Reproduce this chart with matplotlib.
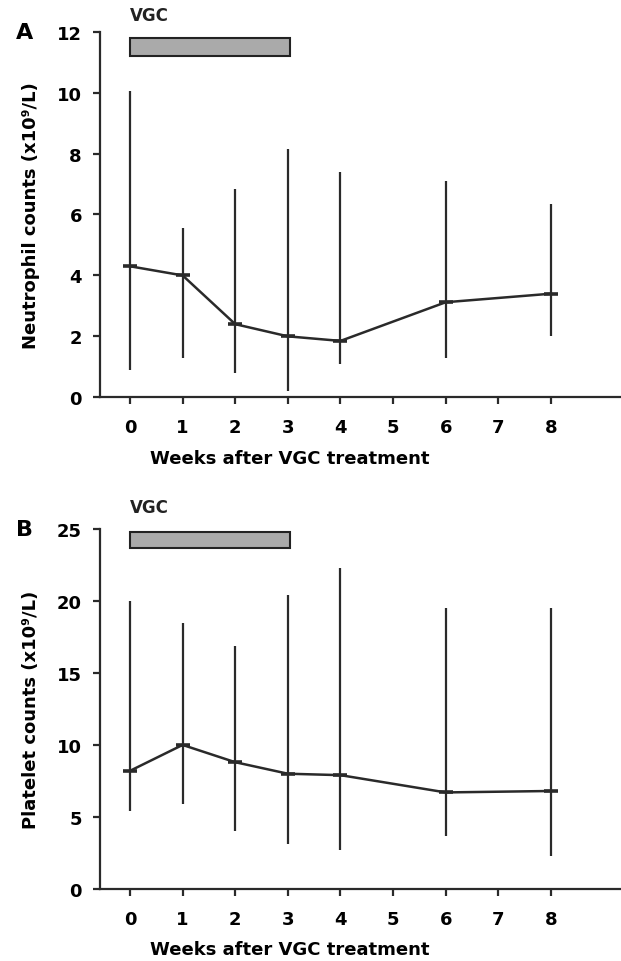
import numpy as np
import matplotlib
matplotlib.use('Agg')
import matplotlib.pyplot as plt

# données
semaines = [0, 1, 2, 3, 4, 6, 8]
neutro_moy = [4.3, 4.0, 2.4, 2.0, 1.85, 3.12, 3.4]
neutro_bas = [0.9, 1.3, 0.8, 0.2, 1.1, 1.3, 2.0]
neutro_haut = [10.05, 5.55, 6.85, 8.15, 7.4, 7.1, 6.35]
plaq_moy = [8.2, 10.0, 8.8, 8.0, 7.9, 6.7, 6.8]
plaq_bas = [5.4, 5.9, 4.0, 3.1, 2.7, 3.7, 2.3]
plaq_haut = [20.0, 18.5, 16.9, 20.4, 22.3, 19.5, 19.5]
ticks_x = [0, 1, 2, 3, 4, 5, 6, 7, 8]
vgc_debut, vgc_fin = 0, 3.05

plt.rcParams['font.family'] = 'DejaVu Sans'
fig = plt.figure(figsize=(6.21, 9.62), dpi=100)
gris = '#2a2a2a'


def panneau(pos, moy, bas, haut, ymax, pas, ylab, lettre, barre_y, barre_h, texte_y):
    ax = fig.add_axes(pos)
    moy = np.array(moy)
    err = [moy - np.array(bas), np.array(haut) - moy]
    ax.errorbar(semaines, moy, yerr=err, fmt='-', color=gris, lw=1.8,
                elinewidth=1.6, capsize=0, marker='_', ms=10, mew=2.6)
    ax.barh(barre_y, vgc_fin - vgc_debut, left=vgc_debut, height=barre_h,
            color='#aaaaaa', edgecolor='#222222', lw=1.5, clip_on=False)
    ax.text(vgc_debut, texte_y, 'VGC', fontsize=12, fontweight='bold',
            ha='left', va='bottom', color='#222222')
    ax.set_xlim(-0.57, 9.33)
    ax.set_ylim(0, ymax)
    ax.set_xticks(ticks_x)
    ax.set_yticks(np.arange(0, ymax + 0.1, pas))
    for s in ['top', 'right']:
        ax.spines[s].set_visible(False)
    for s in ['left', 'bottom']:
        ax.spines[s].set_linewidth(1.6)
        ax.spines[s].set_color(gris)
    ax.tick_params(axis='x', labelsize=13, width=1.6, length=5, color=gris, pad=10)
    ax.tick_params(axis='y', labelsize=13, width=1.6, length=5, color=gris, pad=8)
    for t in ax.get_xticklabels() + ax.get_yticklabels():
        t.set_fontweight('bold')
    ax.set_xlabel('Weeks after VGC treatment', fontsize=13, fontweight='bold',
                  labelpad=9, x=0.365)
    ax.set_ylabel(ylab, fontsize=13, fontweight='bold', labelpad=12)
    fig.text(0.025, pos[1] + pos[3], lettre, fontsize=16, fontweight='bold',
             va='center')
    return ax


panneau([0.161, 0.586, 0.839, 0.380], neutro_moy, neutro_bas, neutro_haut,
        12, 2, 'Neutrophil counts (x10⁹/L)', 'A', 11.5, 0.6, 12.25)
panneau([0.161, 0.075, 0.839, 0.374], plaq_moy, plaq_bas, plaq_haut,
        25, 5, 'Platelet counts (x10⁹/L)', 'B', 24.25, 1.1, 25.9)

plt.savefig('out.png', dpi=100)
